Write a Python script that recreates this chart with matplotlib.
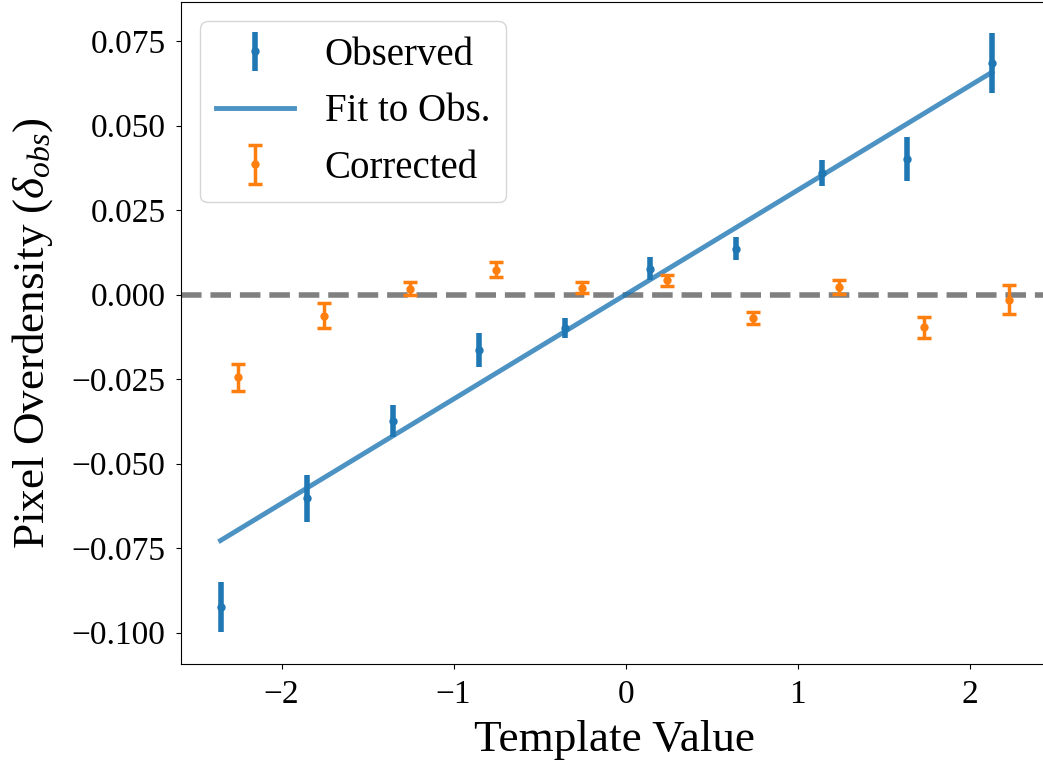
import numpy as np
import matplotlib
matplotlib.use('Agg')
import matplotlib.pyplot as plt

# fonts
plt.rcParams['font.family'] = ['Liberation Serif', 'DejaVu Serif']
plt.rcParams['mathtext.fontset'] = 'custom'
plt.rcParams['mathtext.rm'] = 'Liberation Serif'
plt.rcParams['mathtext.it'] = 'Liberation Serif:italic'

# data
x_obs = [-2.355, -1.855, -1.355, -0.855, -0.355, 0.14, 0.64, 1.14, 1.635, 2.13]
y_obs = [-0.0925, -0.0603, -0.0375, -0.0165, -0.0098, 0.0077, 0.0136, 0.0360, 0.0401, 0.0686]
e_obs = [0.0074, 0.0070, 0.0047, 0.0050, 0.0030, 0.0033, 0.0034, 0.0039, 0.0064, 0.0089]

x_cor = [-2.255, -1.755, -1.255, -0.755, -0.255, 0.24, 0.74, 1.24, 1.735, 2.23]
y_cor = [-0.0245, -0.0062, 0.0018, 0.0074, 0.0021, 0.0042, -0.0070, 0.0022, -0.0096, -0.0015]
e_cor = [0.0040, 0.0038, 0.0020, 0.0022, 0.0017, 0.0016, 0.0018, 0.0020, 0.0031, 0.0042]

fit_slope = 0.0309
fit_intercept = 0.0

fig = plt.figure(figsize=(10.43, 7.61), dpi=100)
ax = fig.add_axes([0.1735, 0.1275, 0.832, 0.8699])

ax.axhline(0, color='grey', lw=4, ls='--', zorder=1)

h_obs = ax.errorbar(x_obs, y_obs, yerr=e_obs, fmt='o', color='C0', ms=5,
                    elinewidth=4, label='Observed', zorder=3)
xf = np.array([min(x_obs), max(x_obs)])
h_fit, = ax.plot(xf, fit_slope * xf + fit_intercept, color='C0', alpha=0.8, lw=3.5,
                 label='Fit to Obs.', zorder=2)
h_cor = ax.errorbar(x_cor, y_cor, yerr=e_cor, fmt='o', color='C1', ms=5,
                    elinewidth=2.5, capsize=5, capthick=2.5, label='Corrected', zorder=3)

ax.set_xlim(-2.585, 2.46)
ax.set_ylim(-0.1093, 0.0866)
ax.set_xticks([-2, -1, 0, 1, 2])
ax.set_yticks([-0.1, -0.075, -0.05, -0.025, 0.0, 0.025, 0.05, 0.075])
ax.tick_params(labelsize=24, pad=7.5)
ax.set_xlabel('Template Value', fontsize=32.5, labelpad=7.5)
ax.set_ylabel(r'Pixel Overdensity ($\delta_{obs}$)', fontsize=32.5, labelpad=12)

ax.legend([h_obs, h_fit, h_cor], ['Observed', 'Fit to Obs.', 'Corrected'],
          loc='upper left', fontsize=28)

fig.savefig('out.png', dpi=100)
